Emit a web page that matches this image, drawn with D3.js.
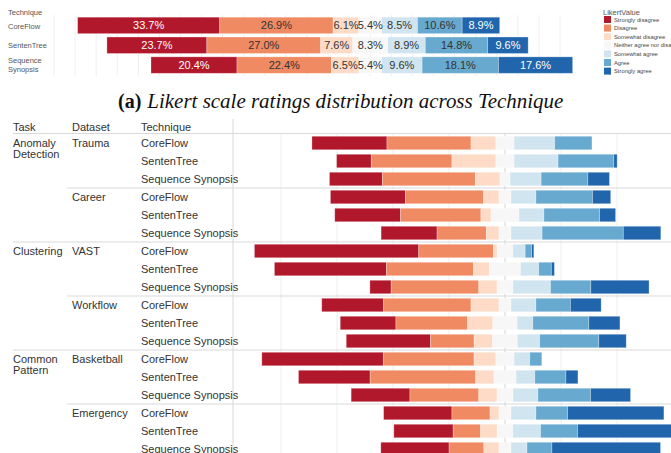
<!DOCTYPE html>
<html><head><meta charset="utf-8">
<script src="https://cdn.jsdelivr.net/npm/d3@7"></script>
<style>body{margin:0;background:#fff}svg{display:block}</style>
</head><body><svg id="c" width="671" height="453"></svg>
<script>
const levels = ["Strongly disagree","Disagree","Somewhat disagree","Neither agree nor disagree","Somewhat agree","Agree","Strongly agree"];
const colors = ["#b2182b","#ef8a62","#fddbc7","#f7f7f7","#d1e5f0","#67a9cf","#2166ac"];

// (a) overall distribution per technique (percent)
const topTechniques = ["CoreFlow","SentenTree","Sequence Synopsis"];
const topValues = [
  [33.7,26.9,6.1,5.4,8.5,10.6,8.9],
  [23.7,27.0,7.6,8.3,8.9,14.8,9.6],
  [20.4,22.4,6.5,5.4,9.6,18.1,17.6]
];

// breakdown by task / dataset / technique (percent)
const tasks = ["Anomaly Detection","Clustering","Common Pattern"];
const datasets = ["Trauma","Career","VAST","Workflow","Basketball","Emergency"];
const datasetTask = [0,0,1,1,2,2];
const techniques = ["CoreFlow","SentenTree","Sequence Synopsis"];
const rowValues = [
  [26.8,30.0,8.9,6.5,14.5,13.3,0.0],
  [12.4,28.8,15.7,6.5,15.7,19.9,1.2],
  [18.9,33.2,8.8,3.6,11.1,16.7,7.7],
  [26.8,27.9,5.5,4.3,8.9,20.2,6.5],
  [23.5,28.7,3.6,10.0,8.9,19.9,5.7],
  [20.0,17.6,4.5,4.3,11.1,29.0,13.4],
  [58.7,26.7,1.3,5.6,4.4,2.3,0.8],
  [40.0,31.1,5.7,11.1,6.5,4.5,1.1],
  [7.6,31.3,6.5,5.7,13.4,14.4,20.8],
  [22.1,31.2,10.0,4.3,8.9,12.3,11.0],
  [19.9,25.6,9.0,8.7,5.6,20.0,11.1],
  [30.1,15.6,6.6,8.8,8.0,21.1,9.8],
  [43.4,32.4,7.8,6.5,5.6,4.3,0.0],
  [25.6,37.7,6.5,7.9,6.7,11.1,4.3],
  [21.0,24.6,6.5,5.7,8.9,18.8,14.3],
  [24.4,13.6,3.2,4.3,8.9,11.3,34.4],
  [21.2,9.8,5.9,5.6,9.9,13.2,34.4],
  [24.4,12.4,5.4,4.3,5.7,8.9,38.8]
];

const svg = d3.select("#c");
const color = d3.scaleOrdinal().domain(levels).range(colors);
const sans = "'Liberation Sans', Arial, sans-serif";

function segments(vals){
  const start = -(vals[0]+vals[1]+vals[2]+vals[3]/2);
  let acc = start;
  return vals.map((v,i)=>{const s={i, x0:acc, x1:acc+v, v}; acc+=v; return s;});
}

// ---------- Top chart ----------
const xT = d3.scaleLinear().domain([-75,45]).range([54,560]);
const yT = d3.scaleBand().domain(topTechniques).range([15.5,75]).paddingInner(0.17).paddingOuter(0.085);
const gT = svg.append("g");
gT.selectAll("line.grid").data(d3.range(-75,46,5)).join("line")
  .attr("x1",d=>xT(d)).attr("x2",d=>xT(d)).attr("y1",15).attr("y2",76)
  .attr("stroke","#f0f0f0").attr("stroke-width",1);
gT.append("text").attr("x",8).attr("y",12).attr("dy","0.35em").text("Technique")
  .attr("font-family",sans).attr("font-size",7.5).attr("fill","#555");
topTechniques.forEach((t,ti)=>{
  const cy = yT(t)+yT.bandwidth()/2;
  const words = t==="Sequence Synopsis" ? ["Sequence","Synopsis"] : [t];
  words.forEach((w,wi)=>{
    gT.append("text").attr("x",8).attr("y",cy + (words.length>1 ? (wi-0.5)*8.6-0.5 : 0.5)).attr("dy","0.35em")
      .text(w).attr("font-family",sans).attr("font-size",7.5).attr("fill","#555");
  });
  const segs = segments(topValues[ti]).filter(s=>s.v>0);
  gT.selectAll(null).data(segs).join("rect")
    .attr("x",s=>xT(s.x0)).attr("width",s=>xT(s.x1)-xT(s.x0))
    .attr("y",yT(t)).attr("height",yT.bandwidth())
    .attr("fill",s=>color(levels[s.i])).attr("stroke","#fff").attr("stroke-opacity",0.35).attr("stroke-width",0.8);
  gT.selectAll(null).data(segs).join("text")
    .attr("x",s=>(xT(s.x0)+xT(s.x1))/2).attr("y",cy).attr("dy","0.36em")
    .attr("text-anchor","middle").attr("font-family",sans).attr("font-size",11)
    .attr("fill",s=>(s.i===0||s.i===6)?"#fff":"#333")
    .text(s=>s.v.toFixed(1)+"%");
});
// legend
const lg = svg.append("g");
lg.append("text").attr("x",603).attr("y",12).attr("dy","0.35em").text("LikertValue")
  .attr("font-family",sans).attr("font-size",7.5).attr("fill","#555");
levels.forEach((l,i)=>{
  const y = 19.5 + i*8.6;
  lg.append("rect").attr("x",604).attr("y",y-3.5).attr("width",7).attr("height",7).attr("fill",colors[i]);
  lg.append("text").attr("x",614).attr("y",y).attr("dy","0.35em").text(l)
    .attr("font-family",sans).attr("font-size",5.8).attr("fill","#444");
});

// caption
const cap = svg.append("text").attr("x",118).attr("y",108)
  .attr("font-family","'Liberation Serif','Times New Roman',serif").attr("fill","#111");
cap.append("tspan").attr("font-weight","bold").attr("font-size",20).text("(a)");
cap.append("tspan").attr("font-style","italic").attr("font-size",21).attr("dx",6)
  .attr("textLength",416).attr("lengthAdjust","spacingAndGlyphs")
  .text("Likert scale ratings distribution across Technique");

// ---------- Bottom chart ----------
const xB = d3.scaleLinear().domain([-100,100]).range([225,785]);
const rows = d3.range(rowValues.length);
const yB = d3.scaleBand().domain(rows).range([134,458]).paddingInner(0.25).paddingOuter(0.125);
const gB = svg.append("g");
const plotL = 233, plotR = 671;
gB.selectAll("line.grid").data(d3.range(-80,61,20).filter(d=>d!==0)).join("line")
  .attr("x1",d=>xB(d)).attr("x2",d=>xB(d)).attr("y1",134).attr("y2",453)
  .attr("stroke","#eeeeee").attr("stroke-width",1);
gB.append("line").attr("x1",xB(0)).attr("x2",xB(0)).attr("y1",134).attr("y2",453)
  .attr("stroke","#d4d4d4").attr("stroke-width",1);

// headers
[["Task",13],["Dataset",72],["Technique",141]].forEach(([t,x])=>{
  gB.append("text").attr("x",x).attr("y",127).attr("dy","0.35em").text(t)
    .attr("font-family",sans).attr("font-size",11).attr("fill","#333");
});
gB.append("line").attr("x1",13).attr("x2",plotR).attr("y1",133.5).attr("y2",133.5).attr("stroke","#d9d9d9");
gB.append("line").attr("x1",plotL).attr("x2",plotL).attr("y1",119).attr("y2",453).attr("stroke","#d9d9d9");

datasets.forEach((ds,di)=>{
  const top = yB(di*3) - yB.step()*yB.paddingInner()/2;
  if(di>0){
    const taskBoundary = datasetTask[di]!==datasetTask[di-1];
    gB.append("line").attr("x1",taskBoundary?13:67).attr("x2",plotR)
      .attr("y1",top).attr("y2",top).attr("stroke","#d9d9d9");
  }
  gB.append("text").attr("x",72).attr("y",yB(di*3)+yB.bandwidth()/2).attr("dy","0.35em").text(ds)
    .attr("font-family",sans).attr("font-size",11).attr("fill","#333");
  if(di===0 || datasetTask[di]!==datasetTask[di-1]){
    const t = tasks[datasetTask[di]];
    const words = t.split(" ");
    words.forEach((w,wi)=>{
      gB.append("text").attr("x",13).attr("y",yB(di*3)+yB.bandwidth()/2 + wi*11.5).attr("dy","0.35em").text(w)
        .attr("font-family",sans).attr("font-size",11).attr("fill","#333");
    });
  }
});

rows.forEach(r=>{
  const cy = yB(r)+yB.bandwidth()/2;
  gB.append("text").attr("x",141).attr("y",cy).attr("dy","0.35em").text(techniques[r%3])
    .attr("font-family",sans).attr("font-size",11).attr("fill","#333");
  const segs = segments(rowValues[r]).filter(s=>s.v>0);
  gB.selectAll(null).data(segs).join("rect")
    .attr("x",s=>xB(s.x0)).attr("width",s=>xB(s.x1)-xB(s.x0))
    .attr("y",yB(r)).attr("height",yB.bandwidth())
    .attr("fill",s=>color(levels[s.i])).attr("stroke","#fff").attr("stroke-opacity",0.35).attr("stroke-width",0.8);
});
</script></body></html>
